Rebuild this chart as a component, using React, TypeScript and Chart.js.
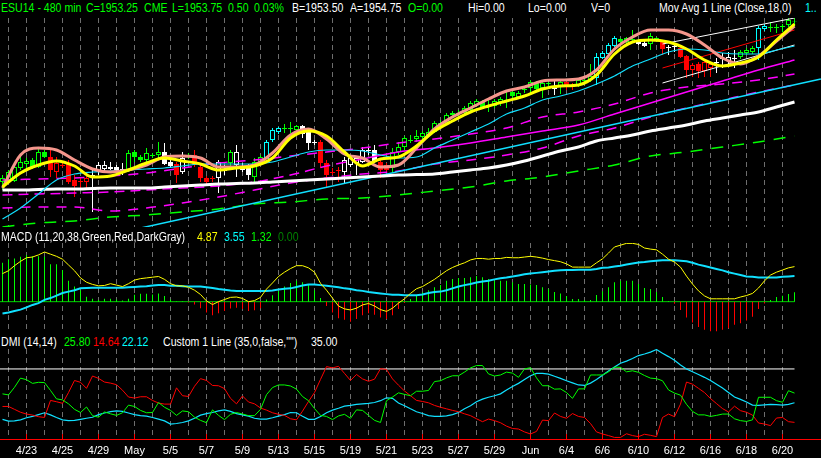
import React, { useEffect, useRef } from "react";
import { Chart, registerables } from "chart.js";

Chart.register(...registerables);

// ---------------- data ----------------
const dateLabels = ["4/23", "4/25", "4/29", "May", "5/5", "5/7", "5/9", "5/13", "5/15", "5/19", "5/21", "5/23", "5/27", "5/29", "Jun", "6/4", "6/6", "6/10", "6/12", "6/16", "6/18", "6/20"];

const opens = [
  1873, 1874, 1873.5, 1880, 1882, 1884, 1880.5, 1888, 1885.5, 1878,
  1881, 1882.5, 1874, 1873, 1873, 1875.5, 1878.5, 1879.5, 1880.5, 1880.5,
  1879, 1879, 1888, 1885.5, 1884, 1886, 1886.5, 1888, 1883, 1882,
  1878, 1885.5, 1886.5, 1880.5, 1875, 1874.5, 1875, 1878.5, 1882.5, 1881.5,
  1880.5, 1881, 1875.5, 1883, 1883, 1894, 1898, 1899.5, 1899.5, 1899,
  1901, 1899, 1892.5, 1893, 1882.5, 1877.5, 1878.5, 1878, 1881.5, 1882.5,
  1883, 1888.5, 1889, 1883, 1881.5, 1880, 1888, 1890.5, 1893.5, 1894.5,
  1895.5, 1896.5, 1898, 1902, 1902.5, 1906.5, 1907, 1907.5, 1909, 1911.5,
  1913, 1911, 1911, 1913, 1913.5, 1918, 1915.5, 1919, 1920, 1922.5,
  1920, 1922, 1919.5, 1920.5, 1923, 1920.5, 1921.5, 1923.5, 1924, 1925,
  1935, 1937, 1941, 1944.5, 1943, 1944, 1943, 1942.5, 1942, 1945,
  1943, 1940, 1940.5, 1940, 1936, 1929, 1932, 1928.5, 1930, 1932.5,
  1934.5, 1933.5, 1934.5, 1935.5, 1937.5, 1938, 1940, 1949.5, 1950, 1950,
  1950.5, 1951.5, 1953,
];
const highs = [
  1876.5, 1879, 1881.5, 1886.5, 1885, 1885, 1890.5, 1889, 1889, 1885.5,
  1883, 1884, 1876.5, 1875, 1876.5, 1879, 1883, 1883.5, 1883, 1881.5,
  1882.5, 1889, 1889, 1886.5, 1890, 1887.5, 1893, 1892.5, 1884, 1883,
  1888, 1887.5, 1889, 1881.5, 1876, 1876, 1884, 1881.5, 1889, 1891.5,
  1882.5, 1882, 1885, 1886.5, 1894, 1900, 1900.5, 1902, 1903, 1901.5,
  1901.5, 1900, 1894, 1894, 1884, 1880, 1880.5, 1885.5, 1886, 1885.5,
  1890.5, 1890.5, 1891.5, 1884, 1882.5, 1890, 1893, 1896, 1896.5, 1899,
  1898.5, 1900, 1903.5, 1904, 1907.5, 1908.5, 1909, 1911, 1913.5, 1914.5,
  1914, 1914, 1914.5, 1915.5, 1918, 1919, 1918.5, 1921, 1924, 1923.5,
  1923.5, 1923.5, 1924, 1924, 1924, 1922.5, 1925, 1925, 1932, 1937.5,
  1938.5, 1942.5, 1946, 1945, 1945.5, 1949, 1943.5, 1943.5, 1947.5, 1945.5,
  1943.5, 1941.5, 1941.5, 1940.5, 1936.5, 1932.5, 1933, 1934, 1933, 1935,
  1937.5, 1938, 1939, 1939, 1940, 1941, 1951, 1952, 1953, 1952,
  1952, 1955.5, 1955.5,
];
const lows = [
  1869, 1872.5, 1873, 1879, 1880, 1879.5, 1880, 1885, 1875.5, 1875,
  1880, 1872, 1865.5, 1870, 1870, 1858, 1876.5, 1878, 1879, 1878,
  1876.5, 1878, 1883, 1883, 1883, 1885, 1885, 1881.5, 1880, 1872.5,
  1877, 1884.5, 1880.5, 1873, 1872, 1873, 1867.5, 1876.5, 1879, 1875.5,
  1878, 1874, 1873, 1881.5, 1882.5, 1893, 1897, 1897.5, 1897.5, 1898,
  1895, 1889, 1891.5, 1880, 1870.5, 1876.5, 1873, 1872.5, 1880.5, 1876.5,
  1882.5, 1886.5, 1882.5, 1875, 1878, 1878, 1886.5, 1889, 1892.5, 1893,
  1894.5, 1895.5, 1897.5, 1900.5, 1901.5, 1905.5, 1906, 1906.5, 1908, 1910.5,
  1910, 1908, 1910, 1911, 1910, 1915, 1914.5, 1917.5, 1917.5, 1919,
  1915, 1921, 1916.5, 1917, 1919, 1919, 1920.5, 1922.5, 1923, 1921.5,
  1934.5, 1936.5, 1940.5, 1942.5, 1941.5, 1942.5, 1941.5, 1940.5, 1939, 1943,
  1936.5, 1936.5, 1938, 1935, 1925, 1925.5, 1925, 1925.5, 1925.5, 1927.5,
  1930, 1931.5, 1930, 1934.5, 1936.5, 1937, 1934, 1948.5, 1948, 1947.5,
  1948, 1950.5, 1951,
];
const closes = [
  1875, 1878, 1880.5, 1883, 1883.5, 1880, 1888, 1885.5, 1879, 1882.5,
  1881.5, 1873, 1871, 1873.5, 1875, 1876.5, 1881.5, 1881.5, 1879.5, 1879,
  1879.5, 1887.5, 1885.5, 1884, 1887.5, 1886.5, 1888, 1882, 1881, 1876.5,
  1885, 1886, 1881.5, 1875, 1873, 1875, 1883, 1879, 1888, 1888,
  1879, 1876.5, 1883, 1885.5, 1893, 1899, 1900, 1900, 1900, 1901,
  1897, 1892.5, 1893, 1882.5, 1876.5, 1878, 1879, 1884, 1885, 1885,
  1889, 1889, 1883, 1879, 1879, 1888, 1890.5, 1895, 1894, 1896,
  1897.5, 1898, 1902.5, 1902.5, 1906.5, 1907.5, 1907.5, 1910, 1912.5, 1913.5,
  1910.5, 1911.5, 1913.5, 1914.5, 1914, 1916, 1917.5, 1919.5, 1923, 1919.5,
  1922.5, 1922.5, 1920, 1923, 1920.5, 1921, 1924, 1924, 1926, 1935.5,
  1937.5, 1941.5, 1945, 1943, 1945, 1944.5, 1942, 1941, 1946, 1943.5,
  1939.5, 1940.5, 1941, 1935.5, 1929, 1931.5, 1928.5, 1933, 1932, 1933,
  1935, 1935.5, 1935, 1938, 1939, 1940, 1950, 1951, 1950.5, 1950.5,
  1951, 1954, 1953.25,
];
// paint-bar colour code of each candle: G green, R red, W white, C cyan
const barCodes =
  "GGGGGGGG" + "RRRRRRR" + "WWWWWW" + "GGGGGG" + "WW" + "R" + "W" + "G" + "RRRR" + "WW" + "G" + "WWW" + "GG" + "CCC" +
  "GGG" + "WWW" + "RRRR" + "WWWWWW" + "RR" + "GGGGGGGGGGGGGGGGGGGGGGGGGGG" + "W" + "G" + "RR" + "GGG" + "CCCC" + "GGG" +
  "WW" + "GG" + "R" + "WW" + "RRRRRR" + "WWWW" + "GGG" + "CC" + "GGGGG";

// moving averages sampled every 3 bars (bar 0, 3, 6 ... 132)
const pinkAvg = [1870, 1886.5, 1890, 1889, 1884, 1879.5, 1878, 1879, 1881.5, 1885.5, 1886, 1885, 1880.5, 1880.5, 1881.5, 1887.5, 1896.5, 1899.5, 1894.5, 1887, 1885, 1880.5, 1881.5, 1890, 1899.5, 1905.5, 1910, 1914.5, 1918.5, 1920.5, 1923.5, 1924, 1924.5, 1929, 1939.5, 1945.5, 1949, 1949, 1947, 1941.5, 1935, 1932, 1936, 1943.5, 1951];
const yellowAvg = [1870.5, 1877.5, 1881.5, 1883.5, 1881, 1875.5, 1876, 1879, 1882.5, 1885, 1883.5, 1882, 1879, 1880, 1881, 1885, 1895, 1898.5, 1896, 1888, 1881, 1884.5, 1885.5, 1891, 1898.5, 1903.5, 1908, 1911, 1913.5, 1916, 1919.5, 1921, 1921.5, 1926.5, 1937, 1943, 1944, 1943, 1939.5, 1934, 1931, 1932.5, 1935.5, 1944, 1952];
const cyanAvg = [1854.5, 1860, 1867, 1874, 1877, 1878, 1878.5, 1879, 1879.5, 1880, 1881, 1882, 1882, 1882, 1882, 1883, 1885.5, 1888, 1889, 1889, 1888.5, 1886.5, 1885, 1885.5, 1890, 1894, 1898, 1902, 1907, 1910, 1914, 1916, 1918.5, 1922, 1926, 1931, 1934.5, 1938, 1939.5, 1939, 1937.5, 1937, 1937, 1939, 1941];
const whiteAvg = [1869, 1869, 1869.25, 1869.5, 1869.5, 1869.75, 1870, 1870, 1870, 1870.5, 1871, 1871.5, 1872, 1872.25, 1872.5, 1873, 1873.5, 1874, 1874.5, 1875, 1875.5, 1876, 1876.5, 1876.75, 1877, 1878, 1879, 1880, 1881.5, 1883.5, 1886, 1888.5, 1890.5, 1893.5, 1895, 1896.5, 1898.5, 1900, 1901.5, 1903.5, 1905, 1906.5, 1908, 1910.5, 1913];
// slower lines sampled every 6 bars (bar 0, 6, 12 ... 132)
const magentaUpper = [1874, 1874.5, 1875, 1876, 1877.5, 1880, 1882.5, 1884, 1886, 1888, 1890, 1892.5, 1894.5, 1897, 1900, 1905.5, 1908, 1912, 1917.5, 1920.5, 1922, 1924, 1927];
const magentaMid = [1866.5, 1867, 1867.5, 1868, 1869, 1870, 1871, 1873, 1876.5, 1881, 1884.5, 1888, 1890, 1892.5, 1895.5, 1898.5, 1901.5, 1907, 1912.5, 1918, 1923.5, 1929, 1934];
const magentaLower = [1860, 1860.5, 1860.5, 1858.5, 1860, 1862.5, 1865.5, 1869, 1872.5, 1875, 1877, 1878.5, 1882, 1884, 1886.5, 1890, 1896, 1900, 1905.5, 1910, 1914, 1918, 1921.5];
const greenLower = [1850.5, 1852.5, 1853.5, 1855.5, 1856.5, 1858, 1859.5, 1862, 1863, 1864.5, 1865, 1866.5, 1868.5, 1870.5, 1873.5, 1875.5, 1878.5, 1881.5, 1886, 1888, 1890.5, 1893, 1896];
// straight trend line and regression channel (bar index, price)
const trendBars = [20, 136.4];
const trendPrices = [1848, 1924.5];
const channelBars = [110, 132];
const channelUpper = [1942, 1955];
const channelMid = [1930, 1949];
const channelLower = [1922.5, 1941.5];

const macdLine = [
  3.9, 4.3, 5.0, 5.6, 6.1, 6.2, 6.5, 6.9, 6.6, 6.3,
  5.9, 5.1, 4.3, 3.3, 2.7, 2.4, 2.2, 2.25, 2.5, 2.3,
  2.1, 2.5, 3.0, 3.2, 3.3, 3.4, 3.5, 3.1, 2.5, 2.2,
  2.2, 2.0, 1.6, 1.0, 0.1, -0.4, 0.0, 0.3, 0.6, 0.65,
  0.45, 0.0, 0.15, 0.6, 1.75, 2.6, 3.5, 4.1, 4.6, 5.0,
  5.0, 4.7, 4.1, 2.55, 1.6, 0.5, -0.6, -1.0, -1.15, -0.9,
  -0.45, -0.25, -0.6, -1.1, -1.35, -0.9, -0.2, 0.4, 1.15, 1.8,
  2.1, 2.6, 3.1, 3.7, 4.3, 4.75, 5.1, 5.4, 5.8, 6.0,
  6.0, 5.9, 6.0, 6.0, 6.15, 6.1, 6.1, 6.2, 6.3, 6.2,
  6.05, 5.85, 5.7, 5.55, 5.25, 4.8, 4.8, 4.8, 4.8, 5.4,
  5.95, 6.75, 7.6, 7.85, 8.1, 8.1, 7.95, 7.45, 7.3, 7.2,
  6.6, 5.9, 5.5, 4.8, 3.55, 2.45, 1.5, 0.8, 0.4, 0.4,
  0.4, 0.4, 0.4, 0.65, 0.85, 1.15, 1.9, 2.9, 3.7, 4.1,
  4.4, 4.7, 4.87,
];
const macdSignal = [
  -1.65, -1.5, -1.3, -1.1, -0.8, -0.45, -0.2, 0.25, 0.5, 0.85,
  1.2, 1.4, 1.6, 1.85, 1.9, 1.95, 1.95, 1.95, 1.95, 1.95,
  1.95, 2.0, 2.05, 2.1, 2.15, 2.25, 2.3, 2.3, 2.2, 2.2,
  2.15, 2.1, 2.1, 2.1, 2.0, 1.9, 1.75, 1.65, 1.55, 1.5,
  1.5, 1.5, 1.5, 1.5, 1.5, 1.55, 1.7, 1.8, 1.85, 2.05,
  2.25, 2.4, 2.4, 2.3, 2.2, 2.1, 2.0, 1.85, 1.75, 1.6,
  1.5, 1.35, 1.25, 1.15, 1.05, 0.95, 0.95, 0.9, 0.9, 0.9,
  1.0, 1.2, 1.35, 1.4, 1.6, 1.85, 2.1, 2.3, 2.45, 2.65,
  2.8, 2.9, 3.1, 3.25, 3.35, 3.5, 3.65, 3.8, 3.9, 4.0,
  4.1, 4.2, 4.3, 4.35, 4.4, 4.4, 4.45, 4.45, 4.45, 4.55,
  4.7, 4.75, 4.9, 5.0, 5.15, 5.3, 5.45, 5.5, 5.6, 5.7,
  5.75, 5.75, 5.75, 5.7, 5.6, 5.4, 5.15, 4.95, 4.75, 4.55,
  4.35, 4.1, 3.9, 3.7, 3.5, 3.45, 3.35, 3.35, 3.35, 3.35,
  3.45, 3.5, 3.55,
];
const macdHist = [
  5.4, 5.9, 6.0, 6.25, 6.5, 6.3, 6.3, 6.25, 5.2, 5.2,
  4.4, 2.9, 2.1, 1.6, 0.7, 0.4, 0.25, 0.4, 0.4, 0.3,
  0.15, 0.4, 0.95, 1.1, 1.1, 1.0, 1.15, 0.8, 0.3, 0.05,
  0.05, -0.1, -0.4, -0.9, -1.5, -1.9, -1.6, -1.3, -0.95, -0.85,
  -1.0, -1.3, -1.2, -0.9, 0.3, 0.9, 1.5, 2.1, 2.6, 2.9,
  2.7, 2.3, 1.6, 0.5, -0.6, -1.5, -2.3, -2.5, -2.8, -2.4,
  -1.9, -1.6, -1.8, -2.2, -2.4, -1.9, -1.0, -0.2, 0.37, 0.83,
  1.3, 1.6, 2.0, 2.3, 2.9, 3.15, 3.3, 3.3, 3.4, 3.55,
  3.4, 3.15, 2.95, 2.9, 2.9, 2.7, 2.45, 2.45, 2.4, 2.3,
  2.0, 1.75, 1.35, 1.15, 0.8, 0.37, 0.37, 0.23, 0.23, 0.93,
  1.45, 2.0, 2.7, 2.9, 2.9, 2.9, 2.45, 1.9, 1.75, 1.35,
  0.65, 0.1, -0.3, -1.15, -2.2, -2.9, -3.5, -3.9, -4.1, -4.1,
  -3.9, -3.7, -3.2, -3.0, -2.6, -2.1, -1.0, -0.25, 0.23, 0.65,
  0.83, 1.05, 1.32,
];

const diPlus = [
  25.5, 25.1, 28.0, 31.5, 30.9, 29.5, 29.9, 29.8, 26.8, 23.6,
  23.2, 21.7, 19.6, 18.4, 20.5, 17.2, 16.6, 18.6, 17.9, 17.3,
  18.3, 21.2, 20.7, 19.2, 18.3, 18.4, 22.2, 20.4, 19.2, 17.3,
  19.0, 18.7, 16.6, 15.4, 14.5, 19.4, 17.3, 15.7, 17.7, 18.4,
  17.8, 17.2, 17.2, 19.6, 25.2, 27.9, 28.9, 28.9, 28.5, 27.3,
  24.5, 22.9, 19.9, 17.3, 16.9, 15.7, 17.1, 17.7, 16.2, 19.4,
  19.2, 17.3, 15.4, 14.6, 22.9, 24.3, 25.9, 25.3, 24.8, 26.5,
  26.5, 26.8, 30.2, 30.5, 31.6, 32.4, 32.4, 33.8, 35.4, 36.3,
  36.3, 33.1, 32.3, 32.7, 33.8, 33.4, 31.8, 35.0, 35.5, 31.6,
  28.6, 28.6, 27.3, 27.4, 26.0, 23.8, 27.4, 27.4, 32.7, 32.7,
  32.7, 33.9, 35.7, 35.6, 33.9, 34.3, 33.7, 32.5, 31.5, 31.3,
  30.5, 27.0, 25.8, 25.0, 21.5, 18.8, 17.5, 17.5, 16.9, 17.3,
  17.8, 17.8, 16.0, 15.3, 15.0, 15.6, 24.2, 24.2, 24.2, 22.9,
  22.3, 26.7, 25.8,
];
const diMinus = [
  20.7, 20.7, 19.6, 18.5, 17.8, 17.4, 16.8, 16.5, 23.0, 22.5,
  21.9, 26.0, 30.6, 29.9, 27.6, 32.3, 31.4, 30.0, 29.6, 29.0,
  26.9, 24.3, 23.9, 24.4, 24.4, 23.0, 22.0, 21.6, 21.6, 27.8,
  24.8, 24.5, 28.4, 31.3, 30.6, 28.7, 28.6, 27.5, 23.8, 21.7,
  24.7, 22.4, 21.7, 20.1, 19.3, 18.3, 17.7, 17.3, 16.0, 15.6,
  18.9, 22.6, 26.0, 31.0, 35.9, 35.4, 36.0, 33.3, 30.6, 32.9,
  31.2, 30.3, 31.1, 35.1, 34.8, 31.2, 28.8, 26.6, 24.8, 23.0,
  22.6, 22.1, 21.1, 20.4, 19.8, 19.2, 18.7, 17.9, 17.2, 16.0,
  14.9, 15.9, 15.3, 14.5, 13.2, 12.3, 12.1, 11.0, 10.2, 11.2,
  15.5, 15.3, 18.2, 16.9, 16.2, 18.0, 16.9, 16.5, 14.2, 11.0,
  10.2, 9.6, 8.9, 8.9, 10.3, 9.6, 9.2, 10.1, 9.7, 9.2,
  16.5, 17.8, 16.8, 21.6, 30.0, 29.2, 27.6, 26.0, 23.7, 21.8,
  19.9, 18.6, 20.8, 19.1, 18.5, 17.4, 14.4, 14.0, 13.4, 16.3,
  16.5, 14.9, 14.64,
];
const adx = [
  15.8, 15.1, 15.2, 15.6, 16.4, 16.9, 17.6, 18.3, 17.5, 16.5,
  15.6, 15.3, 15.4, 15.8, 16.2, 16.6, 17.6, 18.2, 18.7, 19.0,
  18.8, 18.2, 17.6, 17.2, 17.0, 16.5, 15.9, 15.2, 14.0, 14.2,
  14.6, 15.2, 16.2, 17.4, 18.0, 18.4, 19.0, 19.4, 18.8, 18.0,
  17.5, 17.0, 16.2, 15.9, 15.9, 16.4, 17.0, 17.6, 18.4, 18.3,
  17.0, 15.8, 15.8, 16.9, 18.3, 19.3, 20.0, 20.8, 21.1, 21.5,
  21.7, 21.9, 22.2, 22.9, 24.0, 23.8, 22.0, 21.0, 19.8, 18.7,
  18.0, 17.2, 16.9, 16.9, 17.1, 17.6, 18.4, 19.8, 21.0, 22.5,
  23.5, 24.2, 24.8, 25.5, 27.0, 28.3, 29.5, 31.0, 32.4, 33.3,
  33.3, 33.0, 32.2, 31.4, 30.5, 29.7, 28.9, 28.7, 29.6, 31.0,
  32.6, 34.2, 35.7, 37.2, 38.0, 39.0, 40.1, 40.7, 41.4, 42.4,
  41.0, 39.7, 38.3, 36.5, 35.0, 33.9, 32.9, 31.8, 30.6, 29.2,
  27.7, 26.0, 24.3, 23.4, 22.4, 21.2, 21.1, 21.3, 21.5, 21.4,
  21.2, 21.5, 22.12,
];
const dmiLevel = 35;

// ---------------- layout / styling ----------------
const W = 821;
const BAR_PX = 6;
const XMIN = -2.5 / BAR_PX;
const XMAX = XMIN + W / BAR_PX;
const dayTicks = Array.from({ length: 44 }, (_, k) => 1 + 3 * k);
const FONT = "'Liberation Sans', Arial, Helvetica, sans-serif";
const CODE_COLORS: Record<string, string> = { G: "#00ff00", R: "#ff0000", W: "#ffffff", C: "#00ffff" };
const GRID = "#6e6e6e";

const seq = (values: number[], step: number) => values.map((y, k) => ({ x: k * step, y }));
const pairs = (xs: number[], ys: number[]) => xs.map((x, k) => ({ x, y: ys[k] }));

const line = (data: any[], color: string, width: number, extra: any = {}) => ({
  type: "line",
  data,
  borderColor: color,
  borderWidth: width,
  pointRadius: 0,
  fill: false,
  ...extra,
});

function xAxis(withLabels: boolean): any {
  const axis: any = {
    type: "linear",
    min: XMIN,
    max: XMAX,
    offset: false,
    afterBuildTicks: (s: any) => {
      s.ticks = dayTicks.map((v) => ({ value: v }));
    },
    grid: { color: GRID, lineWidth: 1, drawTicks: false, offset: false },
    border: { display: withLabels, color: "#ff0000", width: 1, dash: [5, 4] },
    ticks: { display: false },
  };
  if (withLabels) {
    axis.ticks = {
      display: true,
      autoSkip: false,
      maxRotation: 0,
      minRotation: 0,
      padding: 5,
      color: "#ffffff",
      font: { family: FONT, size: 11 },
      callback: (v: number) => {
        const k = (v - 4) / 6;
        return Number.isInteger(k) && dateLabels[k] ? dateLabels[k] : "";
      },
    };
    axis.afterFit = (s: any) => {
      s.height = 19;
    };
  }
  return axis;
}

function baseOptions(yMin: number, yMax: number, withLabels: boolean): any {
  return {
    responsive: false,
    maintainAspectRatio: false,
    animation: false,
    devicePixelRatio: 1,
    events: [],
    layout: { padding: 0 },
    plugins: { legend: { display: false }, tooltip: { enabled: false }, title: { display: false } },
    scales: {
      x: xAxis(withLabels),
      y: { type: "linear", display: false, min: yMin, max: yMax },
    },
  };
}

function priceConfig(): any {
  const idx = closes.map((_, i) => i);
  const col = barCodes.split("").map((c) => CODE_COLORS[c]);
  const smooth = { cubicInterpolationMode: "monotone" };
  return {
    type: "line",
    data: {
      datasets: [
        {
          type: "bar",
          data: idx.map((i) => ({ x: i, y: [lows[i], highs[i]] })),
          backgroundColor: col,
          borderWidth: 0,
          barThickness: 1,
          grouped: false,
          inflateAmount: 0,
          order: 100,
        },
        {
          type: "bar",
          data: idx.map((i) => ({ x: i, y: [opens[i], closes[i]] })),
          backgroundColor: idx.map((i) => (closes[i] > opens[i] ? "#000000" : col[i])),
          borderColor: col,
          borderWidth: 1,
          borderSkipped: false,
          barThickness: 5,
          grouped: false,
          inflateAmount: 0,
          order: 99,
        },
        line(seq(greenLower, 6), "#00ff00", 1.5, { borderDash: [12, 9], order: 30, ...smooth }),
        line(seq(magentaLower, 6), "#ff00ff", 1.5, { borderDash: [10, 8], order: 29, ...smooth }),
        line(seq(magentaUpper, 6), "#ff00ff", 1.5, { borderDash: [10, 8], order: 28, ...smooth }),
        line(seq(magentaMid, 6), "#ff00ff", 1.5, {
          order: 27,
          ...smooth,
          segment: { borderDash: (ctx: any) => (ctx.p0.parsed.x < 60 ? [10, 6] : undefined) },
        }),
        line(pairs(trendBars, trendPrices), "#10e0ff", 1.5, { order: 26 }),
        line(pairs(channelBars, channelUpper), "#ffffff", 1, { order: 25 }),
        line(pairs(channelBars, channelMid), "#ff0000", 1, { order: 24 }),
        line(pairs(channelBars, channelLower), "#ffffff", 1, { order: 23 }),
        line(seq(whiteAvg, 3), "#ffffff", 3, { order: 15, ...smooth }),
        line(seq(cyanAvg, 3), "#10e0ff", 1.2, { order: 12, ...smooth }),
        line(seq(pinkAvg, 3), "#f5968c", 3, { order: 11, ...smooth }),
        line(seq(yellowAvg, 3), "#ffff00", 3, { order: 10, ...smooth }),
      ],
    },
    options: baseOptions(1850.5, 1955, false),
  };
}

function macdConfig(): any {
  const idx = macdHist.map((_, i) => i);
  return {
    type: "line",
    data: {
      datasets: [
        line([{ x: -0.5, y: 0 }, { x: idx.length - 1, y: 0 }], "#00d000", 1, { order: 30 }),
        {
          type: "bar",
          data: idx.map((i) => ({ x: i, y: macdHist[i] })),
          backgroundColor: macdHist.map((v) => (v >= 0 ? "#00ff00" : "#ff0000")),
          borderWidth: 0,
          barThickness: 1,
          grouped: false,
          inflateAmount: 0,
          order: 20,
        },
        line(seq(macdSignal, 1), "#10e0ff", 2, { order: 11 }),
        line(seq(macdLine, 1), "#ffff00", 1, { order: 10 }),
      ],
    },
    options: baseOptions(-4.35, 8.15, false),
  };
}

const labelTicks = {
  id: "labelTicks",
  afterDatasetsDraw(chart: any) {
    const { ctx, chartArea, scales } = chart;
    ctx.save();
    ctx.strokeStyle = "#ff0000";
    ctx.lineWidth = 1;
    dateLabels.forEach((_, k) => {
      const px = scales.x.getPixelForValue(4 + 6 * k);
      ctx.beginPath();
      ctx.moveTo(px, chartArea.bottom - 5);
      ctx.lineTo(px, chartArea.bottom);
      ctx.stroke();
    });
    ctx.restore();
  },
};

function dmiConfig(): any {
  return {
    type: "line",
    data: {
      datasets: [
        line([{ x: -0.5, y: dmiLevel }, { x: adx.length - 1, y: dmiLevel }], "#ffffff", 1, { order: 30 }),
        line(seq(adx, 1), "#10e0ff", 1.2, { order: 12 }),
        line(seq(diMinus, 1), "#ff0000", 1, { order: 11 }),
        line(seq(diPlus, 1), "#00ff00", 1, { order: 10 }),
      ],
    },
    options: baseOptions(8.3, 42.6, true),
    plugins: [labelTicks],
  };
}

// ---------------- text rows ----------------
const headerTexts = [
  { x: 1, c: "#00ff00", t: "ESU14 - 480 min" },
  { x: 86, c: "#00ff00", t: "C=1953.25" },
  { x: 144, c: "#00ff00", t: "CME" },
  { x: 172, c: "#00ff00", t: "L=1953.75" },
  { x: 228, c: "#00ff00", t: "0.50" },
  { x: 254, c: "#00ff00", t: "0.03%" },
  { x: 292, c: "#ffffff", t: "B=1953.50" },
  { x: 350, c: "#ffffff", t: "A=1954.75" },
  { x: 408, c: "#00ff00", t: "O=0.00" },
  { x: 468, c: "#ffffff", t: "Hi=0.00" },
  { x: 528, c: "#ffffff", t: "Lo=0.00" },
  { x: 591, c: "#ffffff", t: "V=0" },
  { x: 659, c: "#ffffff", t: "Mov Avg 1 Line (Close,18,0)" },
  { x: 805, c: "#00ffff", t: "1.." },
];
const macdTexts = [
  { x: 1, c: "#ffffff", t: "MACD (11,20,38,Green,Red,DarkGray)" },
  { x: 197, c: "#ffff00", t: "4.87" },
  { x: 224, c: "#00ffff", t: "3.55" },
  { x: 251, c: "#00ff00", t: "1.32" },
  { x: 278, c: "#008000", t: "0.00" },
];
const dmiTexts = [
  { x: 1, c: "#ffffff", t: "DMI (14,14)" },
  { x: 64, c: "#00ff00", t: "25.80" },
  { x: 93, c: "#ff0000", t: "14.64" },
  { x: 122, c: "#00ffff", t: "22.12" },
  { x: 163, c: "#ffffff", t: 'Custom 1 Line (35,0,false,"")' },
  { x: 311, c: "#ffffff", t: "35.00" },
];

function TextRow({ items, top }: { items: { x: number; c: string; t: string }[]; top: number }) {
  return (
    <>
      {items.map((it, k) => (
        <span
          key={k}
          style={{
            position: "absolute",
            left: it.x,
            top,
            color: it.c,
            fontFamily: FONT,
            fontSize: 12,
            lineHeight: "12px",
            whiteSpace: "pre",
            transform: "scaleX(0.88)",
            transformOrigin: "left top",
          }}
        >
          {it.t}
        </span>
      ))}
    </>
  );
}

export default function App() {
  const priceRef = useRef<HTMLCanvasElement>(null);
  const macdRef = useRef<HTMLCanvasElement>(null);
  const dmiRef = useRef<HTMLCanvasElement>(null);

  useEffect(() => {
    const charts = [
      new Chart(priceRef.current as HTMLCanvasElement, priceConfig()),
      new Chart(macdRef.current as HTMLCanvasElement, macdConfig()),
      new Chart(dmiRef.current as HTMLCanvasElement, dmiConfig()),
    ];
    return () => charts.forEach((c) => c.destroy());
  }, []);

  return (
    <div
      style={{
        position: "fixed",
        left: 0,
        top: 0,
        width: W,
        height: 458,
        background: "#000000",
        overflow: "hidden",
      }}
    >
      <canvas ref={priceRef} width={W} height={209} style={{ position: "absolute", left: 0, top: 18 }} />
      <canvas ref={macdRef} width={W} height={90} style={{ position: "absolute", left: 0, top: 243 }} />
      <canvas ref={dmiRef} width={W} height={109} style={{ position: "absolute", left: 0, top: 349 }} />
      <TextRow items={headerTexts} top={2} />
      <TextRow items={macdTexts} top={231} />
      <TextRow items={dmiTexts} top={336} />
    </div>
  );
}
